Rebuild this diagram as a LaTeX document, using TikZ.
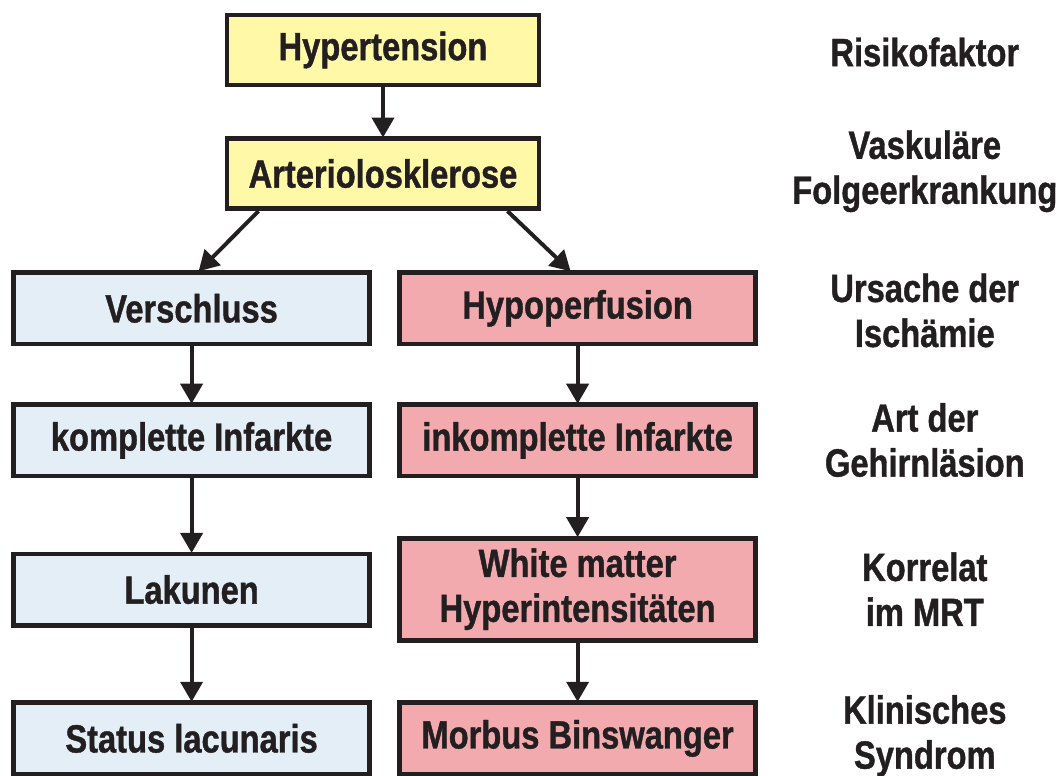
\documentclass[tikz,border=0pt]{standalone}
\usepackage{fontspec}
\usepackage{xcolor}
\usepackage{tikz}
\usetikzlibrary{arrows.meta}

\newfontfamily\condfont{Liberation Sans}[FakeStretch=0.83,FakeBold=1]

\definecolor{ink}{HTML}{231F20}
\definecolor{riskyellow}{HTML}{FFF8A6}
\definecolor{occblue}{HTML}{E4EEF7}
\definecolor{hypopink}{HTML}{F2AAAE}

\tikzset{
  txt/.style={font={\condfont\bfseries\fontsize{28}{32}\selectfont}, text=ink, align=center},
  box/.style={txt, draw=ink, line width=3.5pt, inner sep=2pt},
  topbox/.style={box, fill=riskyellow, minimum width=7.8cm, minimum height=1.75cm},
  leftbox/.style={box, fill=occblue, minimum width=8.9cm, minimum height=1.78cm},
  rightbox/.style={box, fill=hypopink, minimum width=8.9cm, minimum height=1.78cm},
  arr/.style={draw=ink, line width=2.8pt, -{Triangle[width=0.55cm,length=0.5cm]}, shorten >=-1pt},
}

\begin{document}
\begin{tikzpicture}
  \useasboundingbox (0,0) rectangle (26.55,-19.4);

  % yellow column
  \node[topbox] (hyp) at (9.575,-1.25) {Hypertension};
  \node[topbox] (art) at (9.575,-4.34) {Arteriolosklerose};

  % left column
  \node[leftbox] (vers)   at (4.79,-7.71)  {Verschluss};
  \node[leftbox] (komp)   at (4.79,-11.01) {komplette Infarkte};
  \node[leftbox] (lak)    at (4.79,-14.74) {Lakunen};
  \node[leftbox] (status) at (4.79,-18.46) {Status lacunaris};

  % right column
  \node[rightbox] (hypo)   at (14.44,-7.71)  {Hypoperfusion};
  \node[rightbox] (inkomp) at (14.44,-11.01) {inkomplette Infarkte};
  \node[rightbox, minimum height=2.55cm] (wmh) at (14.44,-14.73) {White matter\\Hyperintensitäten};
  \node[rightbox] (binsw)  at (14.44,-18.46) {Morbus Binswanger};

  % level labels
  \node[txt] (lrisk)  at (23.12,-1.3)   {Risikofaktor};
  \node[txt] (lfolge) at (23.12,-4.28)  {Vaskuläre\\Folgeerkrankung};
  \node[txt] (lurs)   at (23.12,-7.76)  {Ursache der\\Ischämie};
  \node[txt] (lart)   at (23.12,-11.0)  {Art der\\Gehirnläsion};
  \node[txt] (lmrt)   at (23.12,-14.73) {Korrelat\\im MRT};
  \node[txt] (lsynd)  at (23.12,-18.4)  {Klinisches\\Syndrom};

  % arrows
  \draw[arr] (hyp) -- (art);
  \draw[arr] ([xshift=0.85cm]art.south west) -- ([xshift=0.2cm]vers.north);
  \draw[arr] ([xshift=-0.85cm]art.south east) -- ([xshift=-0.2cm]hypo.north);
  \draw[arr] (vers) -- (komp);
  \draw[arr] (komp) -- (lak);
  \draw[arr] (lak) -- (status);
  \draw[arr] (hypo) -- (inkomp);
  \draw[arr] (inkomp) -- (wmh);
  \draw[arr] (wmh) -- (binsw);
\end{tikzpicture}
\end{document}
